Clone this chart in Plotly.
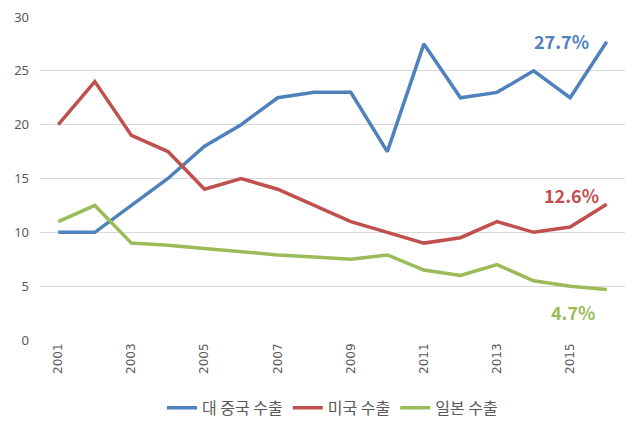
import plotly.graph_objects as go

years = list(range(2001, 2017))
china = [10, 10, 12.5, 15, 18, 20, 22.5, 23, 23, 17.5, 27.5, 22.5, 23, 25, 22.5, 27.7]
usa = [20, 24, 19, 17.5, 14, 15, 14, 12.5, 11, 10, 9, 9.5, 11, 10, 10.5, 12.6]
japan = [11, 12.5, 9, 8.8, 8.5, 8.2, 7.9, 7.7, 7.5, 7.9, 6.5, 6, 7, 5.5, 5, 4.7]
names = ["대 중국 수출", "미국 수출", "일본 수출"]
colors = ["#4F81BD", "#C0504D", "#9BBB59"]
labels = ["27.7%", "12.6%", "4.7%"]
shifts = [(-45, 1), (-35, 9), (-34, -23)]

fig = go.Figure()
for s, n, c in zip([china, usa, japan], names, colors):
    fig.add_trace(go.Scatter(x=years, y=s, name=n, mode="lines",
                             line=dict(color=c, width=3.5)))

for s, c, t, (dx, dy) in zip([china, usa, japan], colors, labels, shifts):
    fig.add_annotation(x=years[-1], y=s[-1], text=t, showarrow=False,
                       xshift=dx, yshift=dy,
                       font=dict(size=18, color=c, family="Noto Sans CJK KR"),
                       )

fig.update_layout(
    width=640, height=428,
    margin=dict(l=40, r=15, t=17, b=88, autoexpand=False),
    paper_bgcolor="white", plot_bgcolor="white",
    font=dict(family="Noto Sans CJK KR", color="#595959", size=13),
    legend=dict(orientation="h", x=0.5, xanchor="center", y=-0.21, yanchor="middle",
                font=dict(size=16, color="#595959")),
    xaxis=dict(range=[2000.5, 2016.5], tickvals=list(range(2001, 2017, 2)),
               tickangle=-90, showgrid=False, zeroline=False, showline=False,
               tickfont=dict(size=12, family="DejaVu Sans", color="#595959")),
    yaxis=dict(range=[0, 30], dtick=5, showgrid=True, gridcolor="#D9D9D9",
               zeroline=False, showline=False,
               tickfont=dict(size=13, family="Noto Sans", color="#595959"),
               ticks="", ticklabelstandoff=10),
)
for a in fig.layout.annotations:
    a.font.weight = "bold"

fig.write_html("out.html")
